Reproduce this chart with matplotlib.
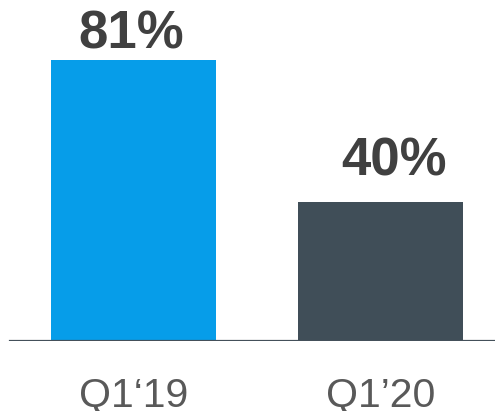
import matplotlib
matplotlib.use("Agg")
import matplotlib.pyplot as plt

categories = ["Q1\u201819", "Q1\u201920"]
values = [81, 40]
value_labels = ["81%", "40%"]
bar_colors = ["#069DE9", "#404E58"]

plt.rcParams['font.family'] = ['Liberation Sans', 'DejaVu Sans']

W, H, DPI = 495, 411, 100
fig = plt.figure(figsize=(W / DPI, H / DPI), dpi=DPI)
base_px = 70.3
ax = fig.add_axes([0, base_px / H, 1, 1 - base_px / H])
ppu = 280.7 / 81.0
ax.set_ylim(0, (H - base_px) / ppu)
spacing = 247.0
ax.set_xlim(-133.5 / spacing, (W - 133.5) / spacing)

x = list(range(len(categories)))
ax.bar(x, values, width=165 / spacing, color=bar_colors, zorder=2)
ax.axhline(0, xmin=10 / W, xmax=1, color="#44505A", lw=1.6, zorder=3)

# label offsets in points (dx, dy)
offsets = [(-1.6, 8.6), (10.0, 19.2)]
for xi, v, lab, off in zip(x, values, value_labels, offsets):
    ax.annotate(lab, (xi, v), xytext=off, textcoords="offset points",
                ha="center", va="baseline", fontsize=38, fontweight="bold",
                color="#404040")

for xi, c in zip(x, categories):
    ax.text(xi, (4.5 - base_px) / ppu, c, ha="center", va="baseline",
            fontsize=29.5, color="#595959", clip_on=False)

ax.axis("off")
fig.savefig("out.png", dpi=DPI)
